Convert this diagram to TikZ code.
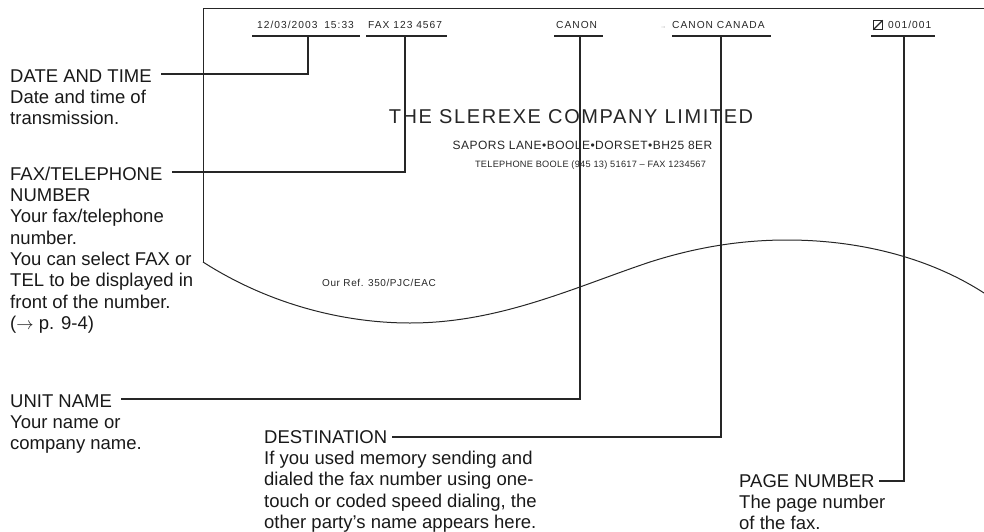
\documentclass[tikz,border=0pt]{standalone}
\usepackage{fontspec}
\setmainfont{Liberation Sans}
\newfontfamily\hdrf[LetterSpace=10]{Liberation Sans}
\newfontfamily\ttlf[LetterSpace=8]{Liberation Sans}
\newfontfamily\sbtf[LetterSpace=4]{Liberation Sans}
\newfontfamily\telf[LetterSpace=3]{Liberation Sans}
\newfontfamily\reff[LetterSpace=6]{Liberation Sans}
\newcommand{\fstrut}{\rule{0pt}{14pt}}
\tikzset{
  lbl/.style={anchor=north west,inner sep=0pt,align=left,font=\fontsize{18.5}{21.3}\selectfont,text=black!90},
  head/.style={anchor=base west,inner sep=0pt,font=\hdrf\fontsize{10.2}{12}\selectfont,text=black!85},
  doc/.style={anchor=base,inner sep=0pt,text=black!85},
  rulebar/.style={line width=2pt,black!85},
  leader/.style={line width=1.7pt,black!85},
  edge/.style={line width=1pt,black!85}
}
\begin{document}
\begin{tikzpicture}[x=1pt,y=-1pt]
\useasboundingbox (0,0) rectangle (984,532);
% page outline
\coordinate (pl) at (203,262);
\coordinate (pt) at (203,9);
\coordinate (pr) at (984,9);
\draw[edge] (pl) -- (pt) -- (pr);
\draw[edge] (pl) .. controls (270,305) and (345,323) .. (410,323)
  .. controls (500,323) and (575,287) .. (650,262)
  .. controls (700,246) and (745,240) .. (787,240)
  .. controls (860,240) and (930,258) .. (984,293);
% header
\node[head] (h1) at (257,29) {12/03/2003\hspace{3pt} 15:33};
\node[head] (h2) at (368,29) {FAX 123 4567};
\node[head] (h3) at (556,29) {CANON};
\node[head] (h4) at (672,29) {CANON CANADA};
\node[head,text=black!45,font=\fontsize{6}{7}\selectfont] (h4a) at (660,29) {→};
\node[head] (h5) at (888,29) {001/001};
\node[draw,line width=0.9pt,minimum size=8.5pt,inner sep=0pt,black!85] (h5a) at (878,25) {};
\draw[line width=1.1pt,black!85] (h5a.south west) -- (h5a.north east);
% underlines
\coordinate (u1a) at (252,36);\coordinate (u1b) at (360,36);
\coordinate (u2a) at (366,36);\coordinate (u2b) at (447,36);
\coordinate (u3a) at (554,36);\coordinate (u3b) at (603,36);
\coordinate (u4a) at (672,36);\coordinate (u4b) at (771,36);
\coordinate (u5a) at (871,36);\coordinate (u5b) at (935,36);
\foreach \n in {1,...,5} \draw[rulebar] (u\n a) -- (u\n b);
% document text
\node[doc,font=\ttlf\fontsize{20}{23}\selectfont] (t1) at (571,123) {THE SLEREXE COMPANY LIMITED};
\node[doc,font=\sbtf\fontsize{12}{14}\selectfont] (t2) at (582.5,149) {SAPORS LANE•BOOLE•DORSET•BH25 8ER};
\node[doc,font=\telf\fontsize{9.2}{11}\selectfont] (t3) at (590.5,167) {TELEPHONE BOOLE (945 13) 51617 – FAX 1234567};
\node[doc,font=\reff\fontsize{10}{12}\selectfont] (t4) at (379,286) {Our Ref. 350/PJC/EAC};
% labels
\node[lbl] (a) at (10,68) {\fstrut DATE AND TIME\\Date and time of\\transmission.};
\node[lbl] (b) at (10,166) {\fstrut FAX/TELEPHONE\\NUMBER\\Your fax/telephone\\number.\\You can select FAX or\\TEL to be displayed in\\front of the number.\\($\rightarrow$ p. 9-4)};
\node[lbl] (c) at (10,393) {\fstrut UNIT NAME\\Your name or\\company name.};
\node[lbl] (d) at (264,429) {\fstrut DESTINATION\\If you used memory sending and\\dialed the fax number using one-\\touch or coded speed dialing, the\\other party’s name appears here.};
\node[lbl] (e) at (739,473) {\fstrut PAGE NUMBER\\The page number\\of the fax.};
% leaders
\coordinate (ax) at (161,74);\coordinate (ay) at (308,36);
\draw[leader] (ax) -- (ay |- ax) -- (ay);
\coordinate (bx) at (172,172);\coordinate (by) at (405,36);
\draw[leader] (bx) -- (by |- bx) -- (by);
\coordinate (cx) at (121,399);\coordinate (cy) at (580,36);
\draw[leader] (cx) -- (cy |- cx) -- (cy);
\coordinate (dx) at (392,437);\coordinate (dy) at (721,36);
\draw[leader] (dx) -- (dy |- dx) -- (dy);
\coordinate (ex) at (879,481);\coordinate (ey) at (904,36);
\draw[leader] (ex) -- (ey |- ex) -- (ey);
\end{tikzpicture}
\end{document}
